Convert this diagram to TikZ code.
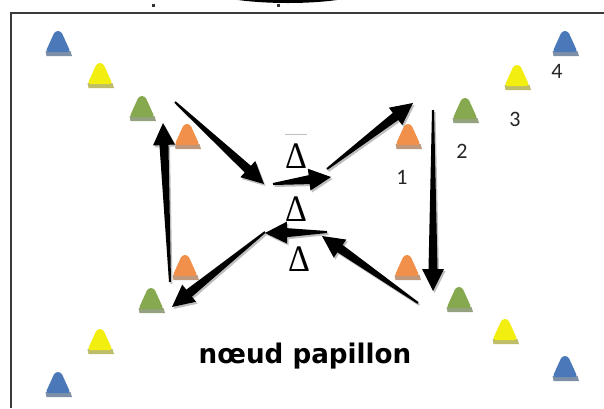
\documentclass[tikz,border=0pt]{standalone}
\usepackage{fontspec}
\usetikzlibrary{calc}
\newfontfamily\titlefont{DejaVu Sans}
\newfontfamily\numfont{Carlito}
\newfontfamily\deltafont{Liberation Serif}
\definecolor{coneblue}{HTML}{4A78B8}
\definecolor{coneyellow}{HTML}{F2EE10}
\definecolor{conegreen}{HTML}{86A84E}
\definecolor{coneorange}{HTML}{F0904A}
\definecolor{framegray}{HTML}{3A3A3A}
\newcommand\tarrow[3][black]{%
  \path ($(#3)!22pt!(#2)$) coordinate (th);
  \fill[#1] ($(#2)!1pt!90:(#3)$) -- ($(th)!4.5pt!90:(#3)$) -- ($(th)!11pt!90:(#3)$)
     -- (#3) -- ($(th)!11pt!-90:(#3)$) -- ($(th)!4.5pt!-90:(#3)$) -- ($(#2)!1pt!-90:(#3)$) -- cycle;}
\tikzset{
  pics/cone/.style={code={
    \fill[#1!45!gray!85] (-12.5,-1) -- (12.5,-1) -- (14,4) -- (-11.5,4) -- cycle;
    \fill[#1, rounded corners=3pt] (-12.5,0) -- (-3,-21) -- (3,-21) -- (12.5,0) -- cycle;
  }},
  numlabel/.style={font=\numfont\fontsize{22}{24}\selectfont, inner sep=0pt, text=black!85},
  deltalabel/.style={font=\deltafont\fontsize{34}{36}\selectfont, inner sep=0pt, yscale=1.1},
  titlelabel/.style={font=\titlefont\bfseries\fontsize{27}{31}\selectfont, inner sep=0pt, anchor=base, xscale=0.97}
}
\begin{document}
\begin{tikzpicture}[x=1pt,y=-1pt]
\useasboundingbox (0,0) rectangle (604,408);
\fill[white] (0,0) rectangle (604,408);
% top artefacts
\fill[black] (238,0) .. controls (268,4) and (308,4) .. (337,0) -- cycle;
\fill[black!80] (152,4) rectangle (155,6.5);
\fill[black!80] (277,4) rectangle (280,6.5);
% frame
\draw[framegray, line width=1.6pt] (11,408) -- (11,13) -- (604,13);
% cones
\pic at (58,52) {cone=coneblue};
\pic at (100,84) {cone=coneyellow};
\pic at (142,117) {cone=conegreen};
\pic at (187,145) {cone=coneorange};
\pic at (565,52) {cone=coneblue};
\pic at (517,86) {cone=coneyellow};
\pic at (465,119) {cone=conegreen};
\pic at (408,145) {cone=coneorange};
\pic at (185,276) {cone=coneorange};
\pic at (151,309) {cone=conegreen};
\pic at (100,350) {cone=coneyellow};
\pic at (58,393) {cone=coneblue};
\pic at (407,276) {cone=coneorange};
\pic at (459,308) {cone=conegreen};
\pic at (505,340) {cone=coneyellow};
\pic at (565,377) {cone=coneblue};
% labels
\node[numlabel] (n1) at (402,177) {1};
\node[numlabel] (n2) at (462,151) {2};
\node[numlabel] (n3) at (515,119) {3};
\node[numlabel] (n4) at (557,71) {4};
\draw[black!25, line width=0.8pt] (285,134) -- (307,134);
\node[deltalabel] (d1) at (296,156) {Δ};
\node[deltalabel] (d2) at (296,209) {Δ};
\node[deltalabel] (d3) at (299,259) {Δ};
\node[titlelabel] (title) at (305,363) {nœud papillon};
% arrow end points
\coordinate (a1s) at (175,102); \coordinate (a1e) at (264,184);
\coordinate (a2s) at (273,184); \coordinate (a2e) at (331,177);
\coordinate (a3s) at (327,169); \coordinate (a3e) at (413,103);
\coordinate (a4s) at (433,110); \coordinate (a4e) at (433,291);
\coordinate (a5s) at (418,303); \coordinate (a5e) at (322,236);
\coordinate (a6s) at (327,232); \coordinate (a6e) at (265,233);
\coordinate (a7s) at (265,232); \coordinate (a7e) at (172,307);
\coordinate (a8s) at (170,282); \coordinate (a8e) at (163,123);
% shadows
\begin{scope}[transform canvas={shift={(1.5pt,-2pt)}}]
\foreach \s/\e in {a1s/a1e,a2s/a2e,a3s/a3e,a4s/a4e,a5s/a5e,a6s/a6e,a7s/a7e,a8s/a8e}
  {\tarrow[black!25]{\s}{\e}}
\end{scope}
\foreach \s/\e in {a1s/a1e,a2s/a2e,a3s/a3e,a4s/a4e,a5s/a5e,a6s/a6e,a7s/a7e,a8s/a8e}
  {\tarrow{\s}{\e}}
\end{tikzpicture}
\end{document}
